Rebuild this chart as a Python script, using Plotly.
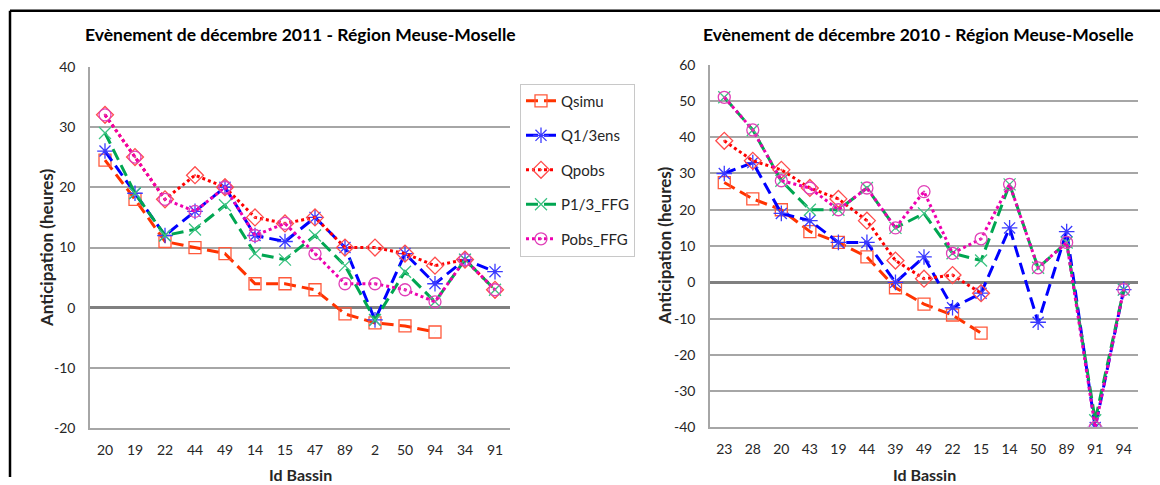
import plotly.graph_objects as go

# ---------------- data ----------------
cats_2011 = ["20", "19", "22", "44", "49", "14", "15", "47", "89", "2", "50", "94", "34", "91"]
qsimu_2011 = [24.5, 18, 11, 10, 9, 4, 4, 3, -1, -2.5, -3, -4, None, None]
q13ens_2011 = [26, 19, 12, 16, 20, 12, 11, 15, 10, -2, 9, 4, 8, 6]
qpobs_2011 = [32, 25, 18, 22, 20, 15, 14, 15, 10, 10, 9, 7, 8, 3]
p13ffg_2011 = [29, 19, 12, 13, 17, 9, 8, 12, 7, -2, 6, 1, 8, 3]
pobsffg_2011 = [32, 25, 18, 16, 20, 12, 14, 9, 4, 4, 3, 1, 8, 3]

cats_2010 = ["23", "28", "20", "43", "19", "44", "39", "49", "22", "15", "14", "50", "89", "91", "94"]
qsimu_2010 = [27.5, 23, 20, 14, 11, 7, -1.5, -6, -9, -14, None, None, None, None, None]
q13ens_2010 = [30, 33, 19, 17, 11, 11, 0, 7, -7, -3, 15, -11, 14, -40, -2]
qpobs_2010 = [39, 33.5, 31, 26, 23, 17, 6, 1, 2, -3, None, None, None, None, None]
p13ffg_2010 = [51, 42, 28, 20, 20, 26, 15, 19, 8, 6, 27, 4, 11, -38, -2]
pobsffg_2010 = [51, 42, 28, 26, 20, 26, 15, 25, 8, 12, 27, 4, 11, -40, -2]

yticks_2011 = [-20, -10, 0, 10, 20, 30, 40]
yticks_2010 = [-40, -30, -20, -10, 0, 10, 20, 30, 40, 50, 60]

series_names = ["Qsimu", "Q1/3ens", "Qpobs", "P1/3_FFG", "Pobs_FFG"]
title_2011 = "Evènement de décembre 2011 - Région Meuse-Moselle"
title_2010 = "Evènement de décembre 2010 - Région Meuse-Moselle"
y_title = "Anticipation (heures)"
x_title = "Id Bassin"

# ---------------- styles ----------------
styles = {
    "Qsimu": dict(line=dict(color="#ff3300", width=3, dash="12px,6px"),
                  marker=dict(symbol="square-open", size=12, color="#ff5a3c", line=dict(width=1.3))),
    "Q1/3ens": dict(line=dict(color="#0000ff", width=3, dash="12px,6px"),
                    marker=dict(symbol="asterisk-open", size=13, color="#3a3aff", line=dict(width=1.3))),
    "Qpobs": dict(line=dict(color="#ff0000", width=3, dash="3px,3px"),
                  marker=dict(symbol="diamond-open-dot", size=13, color="#ff4d4d", line=dict(width=1.3))),
    "P1/3_FFG": dict(line=dict(color="#00a651", width=3, dash="12px,6px"),
                     marker=dict(symbol="x-thin-open", size=12, color="#3cc383", line=dict(width=1.3))),
    "Pobs_FFG": dict(line=dict(color="#ee00b0", width=3, dash="3px,3px"),
                     marker=dict(symbol="circle-open-dot", size=12, color="#e040b8", line=dict(width=1.3))),
}

W, H = 1160, 485
# mapping from target picture pixel rows to figure rows (measured capture offset/scale)
V_SCALE, V_OFF = 0.968, 7.2
def px_x(p): return p / W
def px_y(p):
    q = (p - V_OFF) / V_SCALE
    return min(1.0, max(0.0, 1 - q / H))

fig = go.Figure()

data_2011 = [qsimu_2011, q13ens_2011, qpobs_2011, p13ffg_2011, pobsffg_2011]
data_2010 = [qsimu_2010, q13ens_2010, qpobs_2010, p13ffg_2010, pobsffg_2010]

for name, vals in zip(series_names, data_2011):
    fig.add_trace(go.Scatter(x=cats_2011, y=vals, name=name, mode="lines+markers",
                             xaxis="x", yaxis="y", connectgaps=False,
                             legendgroup=name, **styles[name]))
for name, vals in zip(series_names, data_2010):
    fig.add_trace(go.Scatter(x=cats_2010, y=vals, name=name, mode="lines+markers",
                             xaxis="x2", yaxis="y2", connectgaps=False, showlegend=False,
                             legendgroup=name, **styles[name]))

tick_font = dict(family="Lato, Open Sans, sans-serif", size=14, color="#262626")
grid = "#a6a6a6"

common_x = dict(type="category", showgrid=False, showline=True, linecolor=grid, linewidth=1.5,
                ticks="", tickfont=tick_font, fixedrange=True, ticklabelstandoff=8)
common_y = dict(showgrid=True, gridcolor=grid, gridwidth=1.5, showline=True, linecolor=grid,
                linewidth=1.5, zeroline=True, zerolinecolor="#808080", zerolinewidth=3,
                ticks="", tickfont=tick_font, ticklabelstandoff=10)

fig.update_layout(
    width=W, height=H,
    margin=dict(l=0, r=0, t=0, b=0),
    paper_bgcolor="white", plot_bgcolor="white",
    xaxis=dict(domain=[px_x(90), px_x(510)], anchor="y", range=[-0.5, 13.5], **common_x),
    yaxis=dict(domain=[px_y(428), px_y(65)], anchor="x", range=[-20, 40],
               tickvals=yticks_2011, ticktext=[str(v) for v in yticks_2011], **common_y),
    xaxis2=dict(domain=[px_x(710), px_x(1138)], anchor="y2", range=[-0.5, 14.5], **common_x),
    yaxis2=dict(domain=[px_y(427), px_y(63)], anchor="x2", range=[-40, 60],
                tickvals=yticks_2010, ticktext=[str(v) for v in yticks_2010], **common_y),
    legend=dict(x=px_x(520), y=px_y(82), xanchor="left", yanchor="top",
                bordercolor="#c8c8c8", borderwidth=1, bgcolor="white",
                font=dict(family="Lato, Open Sans, sans-serif", size=15, color="#262626"),
                tracegroupgap=12, itemwidth=30),
    showlegend=True,
)

title_font = dict(family="Lato, Open Sans, sans-serif", size=17.5, color="#000000", weight="bold")
axis_font = dict(family="Lato, Open Sans, sans-serif", size=17, color="#262626", weight="bold")
xaxis_font = dict(family="Lato, Open Sans, sans-serif", size=16, color="#262626", weight="bold")

annotations = [
    dict(text=title_2011, x=px_x(300), y=px_y(33), font=title_font),
    dict(text=title_2010, x=px_x(918), y=px_y(33), font=title_font),
    dict(text=y_title, x=px_x(46), y=px_y(247), font=axis_font, textangle=-90),
    dict(text=y_title, x=px_x(664), y=px_y(245), font=axis_font, textangle=-90),
    dict(text=x_title, x=px_x(300), y=px_y(474), font=xaxis_font),
    dict(text=x_title, x=px_x(924), y=px_y(474), font=xaxis_font),
]
for a in annotations:
    a.update(xref="paper", yref="paper", showarrow=False, xanchor="center", yanchor="middle")
fig.update_layout(annotations=annotations)

fig.update_layout(shapes=[
    dict(type="line", xref="paper", yref="paper", x0=px_x(10), x1=1, y0=px_y(9), y1=px_y(9),
         line=dict(color="black", width=2.5)),
    dict(type="line", xref="paper", yref="paper", x0=px_x(10), x1=px_x(10), y0=px_y(9), y1=0,
         line=dict(color="black", width=2.5)),
])

post = ("document.documentElement.style.margin='0';"
        "document.body.style.margin='0';"
        "document.body.style.overflow='hidden';"
        "var d=document.getElementById('{plot_id}');"
        "d.style.position='fixed';d.style.top='0px';d.style.left='0px';")

fig.write_html("out.html", config={"displayModeBar": False}, post_script=post)
